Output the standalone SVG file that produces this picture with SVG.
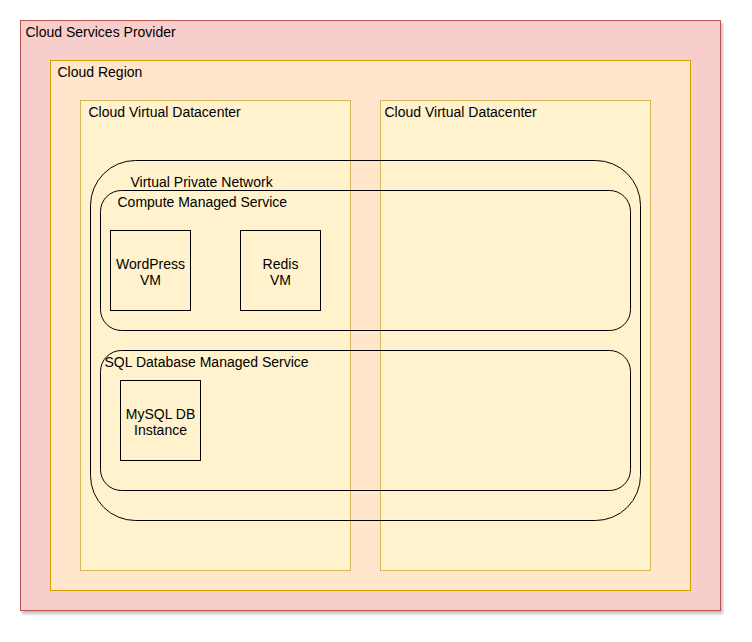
<svg xmlns="http://www.w3.org/2000/svg" width="752" height="642" viewBox="0 0 752 642">
<style>
text{font-family:"Liberation Sans",Arial,Helvetica,sans-serif;font-size:14px;fill:#000}
.c{text-anchor:middle}
.box{fill:none;stroke:#000;stroke-width:1}
.dc{fill:#fff2cc;stroke:#d6b656}
</style>
<defs>
<filter id="sh" x="-5%" y="-5%" width="110%" height="110%">
<feGaussianBlur in="SourceAlpha" stdDeviation="1.5"/>
<feOffset dx="2" dy="3" result="o"/>
<feComponentTransfer><feFuncA type="linear" slope="0.25"/></feComponentTransfer>
<feMerge><feMergeNode/><feMergeNode in="SourceGraphic"/></feMerge>
</filter>
</defs>
<rect width="752" height="642" fill="#fff"/>
<g transform="translate(0.5,0.5)">
<g id="provider">
<rect x="20" y="20" width="700" height="590" fill="#f8cecc" stroke="#b85450" filter="url(#sh)"/>
<text x="25" y="36">Cloud Services Provider</text>
</g>
<g id="region">
<rect x="50" y="60" width="640" height="530" fill="#ffe6cc" stroke="#d79b00"/>
<text x="57" y="76">Cloud Region</text>
</g>
<g id="dc1">
<rect class="dc" x="80" y="100" width="270" height="470"/>
<text x="88" y="116">Cloud Virtual Datacenter</text>
</g>
<g id="dc2">
<rect class="dc" x="380" y="100" width="270" height="470"/>
<text x="384" y="116">Cloud Virtual Datacenter</text>
</g>
<g id="vpn">
<rect class="box" x="90" y="160" width="550" height="360" rx="45" ry="45"/>
<text x="130" y="186">Virtual Private Network</text>
</g>
<g id="compute">
<rect class="box" x="100" y="190" width="530" height="140" rx="21" ry="21"/>
<text x="117" y="206">Compute Managed Service</text>
</g>
<g id="wordpress">
<rect class="box" x="110" y="230" width="80" height="80"/>
<text class="c" x="150" y="268">WordPress</text>
<text class="c" x="150" y="284">VM</text>
</g>
<g id="redis">
<rect class="box" x="240" y="230" width="80" height="80"/>
<text class="c" x="280" y="268">Redis</text>
<text class="c" x="280" y="284">VM</text>
</g>
<g id="sql">
<rect class="box" x="100" y="350" width="530" height="140" rx="21" ry="21"/>
<text x="104" y="366">SQL Database Managed Service</text>
</g>
<g id="mysql">
<rect class="box" x="120" y="380" width="80" height="80"/>
<text class="c" x="160" y="418">MySQL DB</text>
<text class="c" x="160" y="434">Instance</text>
</g>
<g id="connectors"></g>
</g>
</svg>
